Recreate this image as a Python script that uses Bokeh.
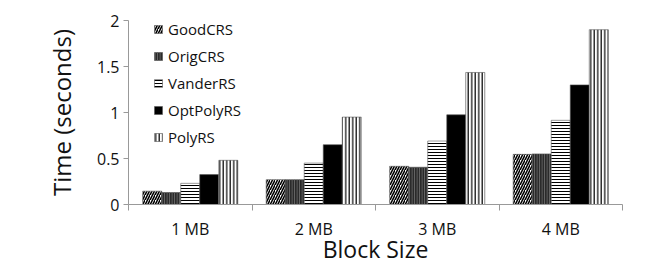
import numpy as np
from bokeh.plotting import figure
from bokeh.models import Range1d, FixedTicker, NumeralTickFormatter, Legend, LegendItem, ColumnDataSource
from bokeh.embed import file_html
from bokeh.resources import INLINE

categories = ["1 MB", "2 MB", "3 MB", "4 MB"]
series = ["GoodCRS", "OrigCRS", "VanderRS", "OptPolyRS", "PolyRS"]
good_crs = [0.145, 0.27, 0.415, 0.545]
orig_crs = [0.13, 0.27, 0.405, 0.55]
vander_rs = [0.23, 0.45, 0.69, 0.915]
optpoly_rs = [0.325, 0.65, 0.975, 1.30]
poly_rs = [0.48, 0.95, 1.435, 1.90]
y_ticks = [0, 0.5, 1, 1.5, 2]

values = [good_crs, orig_crs, vander_rs, optpoly_rs, poly_rs]
styles = [
    dict(fill_color="white", hatch_pattern="/", hatch_color="black", hatch_scale=5, hatch_weight=1.6),
    dict(fill_color="#2a2a2a", hatch_pattern="|", hatch_color="#707070", hatch_scale=2.5, hatch_weight=1),
    dict(fill_color="white", hatch_pattern="-", hatch_color="black", hatch_scale=3, hatch_weight=1),
    dict(fill_color="black"),
    dict(fill_color="white", hatch_pattern="|", hatch_color="black", hatch_scale=3.5, hatch_weight=1.2),
]

FONT = "Open Sans"
p = figure(width=648, height=270, output_backend="svg", toolbar_location=None,
           x_range=Range1d(0, 4), y_range=Range1d(0, 2),
           min_border_left=128, min_border_right=26, min_border_top=20, min_border_bottom=66)
p.outline_line_color = None
p.xgrid.visible = False
p.ygrid.visible = False

bw = 0.154
centers = np.arange(len(categories)) + 0.5
items = []
for k, (name, vals, st) in enumerate(zip(series, values, styles)):
    src = ColumnDataSource(dict(x=centers + (k - 2) * bw, top=vals))
    r = p.vbar(x="x", top="top", width=bw, source=src, line_color="#555555", line_width=0.6, **st)
    items.append(LegendItem(label=name, renderers=[r]))

legend = Legend(items=items, location=(25, 57), padding=0, margin=0, spacing=7,
                glyph_width=10, glyph_height=10, label_height=14, label_standoff=5,
                label_text_font=FONT, label_text_font_size="15px", label_text_color="#111111",
                border_line_color=None, background_fill_alpha=0)
p.add_layout(legend, "center")

# x axis: labels at category centers, ticks at boundaries
p.xaxis.ticker = FixedTicker(ticks=list(centers), minor_ticks=list(range(len(categories) + 1)))
p.xaxis.major_label_overrides = {float(c): lab for c, lab in zip(centers, categories)}
p.xaxis.major_tick_line_color = None
p.xaxis.major_tick_out = 0
p.xaxis.major_tick_in = 0
p.xaxis.minor_tick_out = 6
p.xaxis.minor_tick_in = 0
p.xaxis.minor_tick_line_color = "#999999"
p.xaxis.axis_line_color = "#999999"
p.xaxis.major_label_text_font = FONT
p.xaxis.major_label_text_font_size = "16px"
p.xaxis.major_label_text_color = "#111111"
p.xaxis.major_label_standoff = 7
p.xaxis.axis_label = "Block Size"
p.xaxis.axis_label_text_font = FONT
p.xaxis.axis_label_text_font_size = "23px"
p.xaxis.axis_label_text_font_style = "normal"
p.xaxis.axis_label_text_color = "#111111"
p.xaxis.axis_label_standoff = -10

p.yaxis.ticker = FixedTicker(ticks=y_ticks, minor_ticks=[])
p.yaxis.formatter = NumeralTickFormatter(format="0.[0]")
p.yaxis.major_tick_out = 5
p.yaxis.major_tick_in = 0
p.yaxis.major_tick_line_color = "#999999"
p.yaxis.axis_line_color = "#999999"
p.yaxis.major_label_text_font = FONT
p.yaxis.major_label_text_font_size = "16px"
p.yaxis.major_label_text_color = "#111111"
p.yaxis.major_label_standoff = 4
p.yaxis.axis_label = "Time (seconds)"
p.yaxis.axis_label_text_font = FONT
p.yaxis.axis_label_text_font_size = "24px"
p.yaxis.axis_label_text_font_style = "normal"
p.yaxis.axis_label_text_color = "#111111"
p.yaxis.axis_label_standoff = 16

open("out.html", "w").write(file_html(p, INLINE))
